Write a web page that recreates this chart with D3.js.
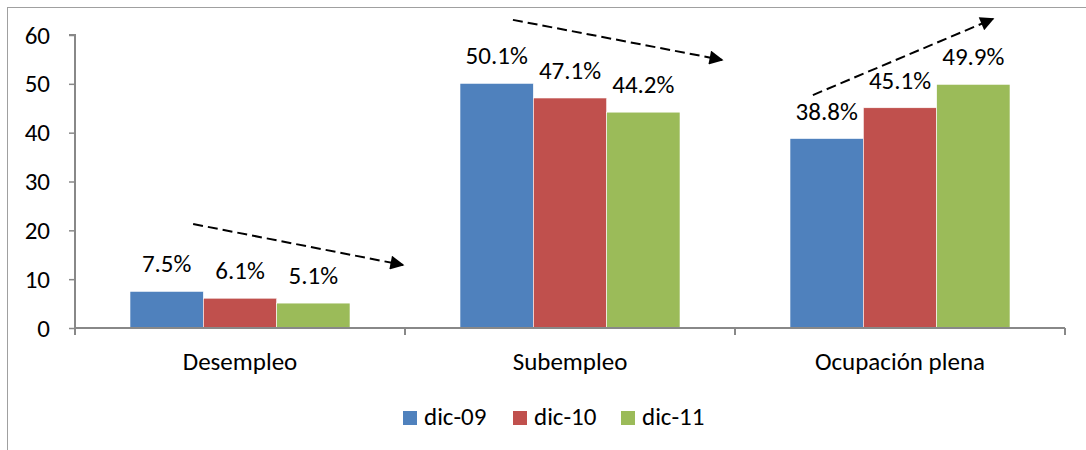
<!DOCTYPE html>
<html><head><meta charset="utf-8">
<script src="https://cdn.jsdelivr.net/npm/d3@7"></script>
<style>body{margin:0;background:#fff}svg{display:block}text{font-family:Carlito,Calibri,Lato,sans-serif;fill:#000}</style>
</head><body><svg id="c" width="1086" height="450"></svg>
<script>
const categories = ["Desempleo", "Subempleo", "Ocupación plena"];
const seriesNames = ["dic-09", "dic-10", "dic-11"];
const dic09 = [7.5, 50.1, 38.8];
const dic10 = [6.1, 47.1, 45.1];
const dic11 = [5.1, 44.2, 49.9];
const yTicks = [0, 10, 20, 30, 40, 50, 60];
const colors = ["#4F81BD", "#C0504D", "#9BBB59"];
// trend arrows: [category, start fraction in band, start value, end category, end fraction, end value]
const arrows = [
  ["Desempleo", 0.358, 21.3, "Desempleo", 0.994, 12.9],
  ["Subempleo", 0.327, 63.1, "Subempleo", 0.961, 54.9],
  ["Ocupación plena", 0.236, 47.7, "Ocupación plena", 0.782, 63.3]
];
const series = [dic09, dic10, dic11];
const FS = "25px";
const FF = "Carlito,Calibri,Lato,sans-serif";

const svg = d3.select("#c");
const L = 75, R = 1065, T = 35, B = 328;
const x = d3.scaleBand().domain(categories).range([L, R]).paddingInner(0).paddingOuter(0);
const y = d3.scaleLinear().domain([0, 60]).range([B, T]);
const inner = d3.scaleBand().domain(seriesNames).range([0, x.bandwidth()]).paddingInner(0).paddingOuter(0.75);

// frame
svg.append("rect").attr("x", 7.5).attr("y", 7.5).attr("width", 1200).attr("height", 600)
  .attr("fill", "none").attr("stroke", "#A0A0A0").attr("stroke-width", 1);

// bars
categories.forEach((c, ci) => {
  seriesNames.forEach((s, si) => {
    const v = series[si][ci];
    svg.append("rect").attr("x", x(c) + inner(s)).attr("y", y(v))
      .attr("width", inner.bandwidth()).attr("height", y(0) - y(v))
      .attr("fill", colors[si]).attr("stroke", "#fff").attr("stroke-width", 0.6);
    svg.append("text").attr("x", x(c) + inner(s) + inner.bandwidth() / 2).attr("y", y(v) - 19)
      .attr("text-anchor", "middle").style("font-size", FS).text(v.toFixed(1) + "%");
  });
});

// y axis
const ya = svg.append("g").attr("transform", `translate(${L},0)`)
  .call(d3.axisLeft(y).tickValues(yTicks).tickSize(6).tickPadding(19));
ya.select(".domain").attr("stroke", "#888").attr("stroke-width", 2).attr("d", `M-6,${T}H0V${B}`);
ya.selectAll(".tick line").attr("stroke", "#888").attr("stroke-width", 1.5);
ya.selectAll(".tick text").style("font-size", FS).attr("fill", "#000").style("font-family", FF);

// x axis
const xa = svg.append("g").attr("transform", `translate(0,${B})`)
  .call(d3.axisBottom(x).tickSize(0));
xa.select(".domain").attr("stroke", "#888").attr("stroke-width", 2).attr("d", `M${L},0H${R}`);
xa.selectAll(".tick text").attr("y", 42).attr("dy", null)
  .style("font-size", FS).attr("fill", "#000").style("font-family", FF);
const bounds = categories.map(c => x(c)).concat([x(categories[categories.length - 1]) + x.bandwidth()]);
svg.append("g").selectAll("line").data(bounds).join("line")
  .attr("x1", d => d).attr("x2", d => d).attr("y1", B).attr("y2", B + 7)
  .attr("stroke", "#888").attr("stroke-width", 2);

// arrows
svg.append("defs").append("marker").attr("id", "ah").attr("viewBox", "0 0 10 10")
  .attr("refX", 9).attr("refY", 5).attr("markerWidth", 8).attr("markerHeight", 7)
  .attr("markerUnits", "strokeWidth").attr("orient", "auto")
  .append("path").attr("d", "M0,0L10,5L0,10Z").attr("fill", "#000");
arrows.forEach(a => {
  svg.append("line")
    .attr("x1", x(a[0]) + a[1] * x.bandwidth()).attr("y1", y(a[2]))
    .attr("x2", x(a[3]) + a[4] * x.bandwidth()).attr("y2", y(a[5]))
    .attr("stroke", "#000").attr("stroke-width", 2).attr("stroke-dasharray", "10,5")
    .attr("marker-end", "url(#ah)");
});

// legend
const legX = [403, 513, 621];
const lg = svg.append("g");
seriesNames.forEach((s, i) => {
  lg.append("rect").attr("x", legX[i]).attr("y", 411).attr("width", 14).attr("height", 14).attr("fill", colors[i]);
  lg.append("text").attr("x", legX[i] + 21).attr("y", 425).style("font-size", FS).text(s);
});
</script></body></html>
